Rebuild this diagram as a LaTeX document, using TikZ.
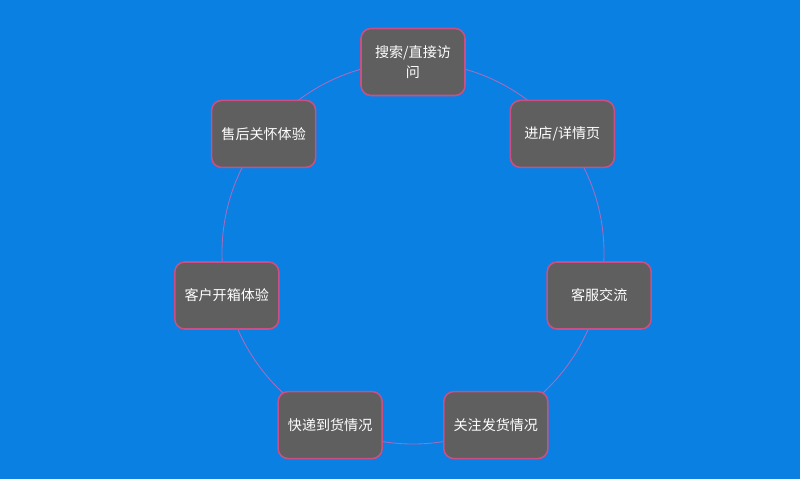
\documentclass[tikz,border=0pt]{standalone}
\usepackage{fontspec}
\setmainfont{Noto Sans CJK SC}
\usepackage{tikz}
\usetikzlibrary{backgrounds}
\definecolor{bgblue}{HTML}{0B80E3}
\definecolor{stepgray}{HTML}{5F5F5F}
\definecolor{steppink}{HTML}{CC4F84}
\definecolor{ringline}{HTML}{A86CBE}

\begin{document}
\begin{tikzpicture}[
    stepbox/.style={draw=steppink, fill=stepgray, rounded corners=0.25cm,
                    line width=1.1pt, minimum width=2.6cm, minimum height=1.675cm,
                    font=\fontsize{10}{14}\selectfont, text=white, align=center,
                    inner sep=2pt},
    ring/.style={draw=ringline, line width=0.6pt},
]
% Background and frame
\fill[bgblue] (-10.325,-5.65) rectangle (9.675,6.325);
\useasboundingbox (-10.325,-5.65) rectangle (9.675,6.325);

% ---- Cycle ring ----
\draw[ring] (0,0) circle (4.775cm);

% ---- Steps of the shopping cycle ----
\node[stepbox] (search)   at (90:4.775)      {搜索/直接访\\问};
\node[stepbox] (shop)     at (38.57:4.775)   {进店/详情页};
\node[stepbox] (service)  at (-12.86:4.775)  {客服交流};
\node[stepbox] (shipping) at (-64.29:4.775)  {关注发货情况};
\node[stepbox] (delivery) at (-115.71:4.775) {快递到货情况};
\node[stepbox] (unbox)    at (-167.14:4.775) {客户开箱体验};
\node[stepbox] (aftercare) at (141.43:4.775) {售后关怀体验};
\end{tikzpicture}
\end{document}
